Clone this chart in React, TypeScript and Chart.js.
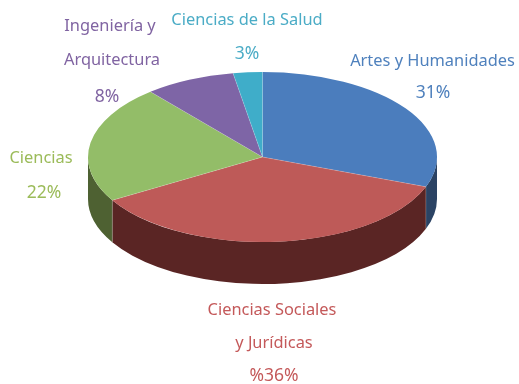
import React, { useEffect, useRef } from "react";
import { Chart, registerables } from "chart.js";

Chart.register(...registerables);

const categories = ["Artes y Humanidades", "Ciencias Sociales y Jurídicas", "Ciencias", "Ingeniería y Arquitectura", "Ciencias de la Salud"];
const shares = [30.7, 35.8, 22.4, 8.4, 2.7];
const topColors = ["#4B7DBD", "#BE5A58", "#93BD68", "#7E65A6", "#3FADC9"];
const wallColors = ["#2B4364", "#5A2524", "#4E6132", "#3F3256", "#1F5A6C"];
const labelColors = ["#4F81BD", "#C4595A", "#9BBB59", "#8064A2", "#4BACC6"];

const labelLines = [
  [["Artes y Humanidades", 432.5, 66], ["31%", 433, 98]],
  [["Ciencias Sociales", 272, 315], ["y Jurídicas", 274, 348], ["%36%", 274, 381]],
  [["Ciencias", 41, 163], ["22%", 44, 198]],
  [["Ingeniería y", 110, 31], ["Arquitectura", 112, 65], ["8%", 107, 102]],
  [["Ciencias de la Salud", 247, 25], ["3%", 247, 59]],
] as [string, number, number][][];

const CY_SCREEN = 157;
const RATIO = 85 / 174.5;
const DEPTH = 42 / RATIO;

const pie3d = {
  id: "pie3d",
  beforeDatasetsDraw(chart: any) {
    const { ctx } = chart;
    const arcs = chart.getDatasetMeta(0).data;
    const cy0 = arcs[0].y;
    ctx.save();
    ctx.translate(0, CY_SCREEN);
    ctx.scale(1, RATIO);
    ctx.translate(0, -cy0);
    arcs.forEach((a: any, i: number) => {
      const { x, y, startAngle, endAngle, outerRadius: r } = a.getProps(["x", "y", "startAngle", "endAngle", "outerRadius"]);
      // the front half of the cylinder wall lies between 0 and PI
      const s = Math.max(startAngle, 0);
      const e = Math.min(endAngle, Math.PI);
      if (e <= s) return;
      ctx.beginPath();
      ctx.arc(x, y, r, s, e);
      ctx.lineTo(x + r * Math.cos(e), y + r * Math.sin(e) + DEPTH);
      ctx.arc(x, y + DEPTH, r, e, s, true);
      ctx.closePath();
      ctx.fillStyle = wallColors[i];
      ctx.fill();
    });
  },
  afterDatasetsDraw(chart: any) {
    const { ctx } = chart;
    const arcs = chart.getDatasetMeta(0).data;
    // pale seams between the slices, on the top face and down the wall
    ctx.strokeStyle = "rgba(255,255,255,0.35)";
    ctx.lineWidth = 0.7;
    arcs.forEach((a: any) => {
      const { x, y, startAngle: t, outerRadius: r } = a.getProps(["x", "y", "startAngle", "outerRadius"]);
      const ex = x + r * Math.cos(t);
      const ey = y + r * Math.sin(t);
      ctx.beginPath();
      ctx.moveTo(x, y);
      ctx.lineTo(ex, ey);
      if (Math.sin(t) > 0) ctx.lineTo(ex, ey + DEPTH);
      ctx.stroke();
    });
    ctx.restore();
  },
  afterDraw(chart: any) {
    const { ctx } = chart;
    ctx.save();
    ctx.textAlign = "center";
    ctx.textBaseline = "alphabetic";
    labelLines.forEach((lines, i) => {
      ctx.fillStyle = labelColors[i];
      lines.forEach(([t, x, y]) => {
        ctx.font = t.endsWith("%") ? '17.5px "Noto Sans"' : '16.4px "Noto Sans"';
        ctx.fillText(t, x, y);
      });
    });
    ctx.restore();
  },
};

export default function App() {
  const ref = useRef<HTMLCanvasElement>(null);
  useEffect(() => {
    const chart = new Chart(ref.current!, {
      type: "pie",
      data: {
        labels: categories,
        datasets: [{ data: shares, backgroundColor: topColors, borderWidth: 0 }],
      },
      options: {
        responsive: false,
        animation: false,
        layout: { padding: { left: 88, right: 82, top: 17, bottom: 18 } },
        plugins: { legend: { display: false }, tooltip: { enabled: false } },
      },
      plugins: [pie3d],
    } as any);
    return () => chart.destroy();
  }, []);
  return (
    <div style={{ position: "absolute", left: 0, top: 0 }}>
      <canvas ref={ref} width={519} height={384} style={{ display: "block" }} />
    </div>
  );
}
